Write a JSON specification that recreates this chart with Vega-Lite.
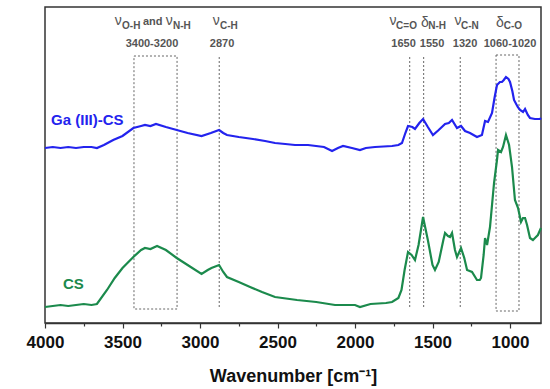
{
  "$schema": "https://vega.github.io/schema/vega-lite/v6.json",
  "autosize": {"type": "none"},
  "padding": {"left": 45, "top": 7, "right": 9, "bottom": 66},
  "width": 496,
  "height": 316,
  "background": "white",
  "config": {
    "view": {"stroke": "#333333", "strokeWidth": 1.5},
    "font": "Liberation Sans",
    "axis": {"grid": false, "domainColor": "#333333", "domainWidth": 1.5, "tickColor": "#333333", "tickWidth": 1.2}
  },
  "datasets": {
    "spectra": [
      {"wn": 4000, "absorbance": 1.75, "sample": "Ga (III)-CS"},
      {"wn": 3950, "absorbance": 1.76, "sample": "Ga (III)-CS"},
      {"wn": 3900, "absorbance": 1.75, "sample": "Ga (III)-CS"},
      {"wn": 3850, "absorbance": 1.76, "sample": "Ga (III)-CS"},
      {"wn": 3800, "absorbance": 1.75, "sample": "Ga (III)-CS"},
      {"wn": 3750, "absorbance": 1.76, "sample": "Ga (III)-CS"},
      {"wn": 3700, "absorbance": 1.76, "sample": "Ga (III)-CS"},
      {"wn": 3665, "absorbance": 1.75, "sample": "Ga (III)-CS"},
      {"wn": 3620, "absorbance": 1.78, "sample": "Ga (III)-CS"},
      {"wn": 3560, "absorbance": 1.83, "sample": "Ga (III)-CS"},
      {"wn": 3500, "absorbance": 1.87, "sample": "Ga (III)-CS"},
      {"wn": 3430, "absorbance": 1.95, "sample": "Ga (III)-CS"},
      {"wn": 3380, "absorbance": 1.97, "sample": "Ga (III)-CS"},
      {"wn": 3355, "absorbance": 1.98, "sample": "Ga (III)-CS"},
      {"wn": 3320, "absorbance": 1.97, "sample": "Ga (III)-CS"},
      {"wn": 3284, "absorbance": 1.99, "sample": "Ga (III)-CS"},
      {"wn": 3220, "absorbance": 1.96, "sample": "Ga (III)-CS"},
      {"wn": 3150, "absorbance": 1.93, "sample": "Ga (III)-CS"},
      {"wn": 3080, "absorbance": 1.90, "sample": "Ga (III)-CS"},
      {"wn": 2990, "absorbance": 1.87, "sample": "Ga (III)-CS"},
      {"wn": 2930, "absorbance": 1.90, "sample": "Ga (III)-CS"},
      {"wn": 2877, "absorbance": 1.93, "sample": "Ga (III)-CS"},
      {"wn": 2850, "absorbance": 1.90, "sample": "Ga (III)-CS"},
      {"wn": 2826, "absorbance": 1.88, "sample": "Ga (III)-CS"},
      {"wn": 2750, "absorbance": 1.86, "sample": "Ga (III)-CS"},
      {"wn": 2658, "absorbance": 1.84, "sample": "Ga (III)-CS"},
      {"wn": 2580, "absorbance": 1.82, "sample": "Ga (III)-CS"},
      {"wn": 2516, "absorbance": 1.80, "sample": "Ga (III)-CS"},
      {"wn": 2450, "absorbance": 1.79, "sample": "Ga (III)-CS"},
      {"wn": 2387, "absorbance": 1.78, "sample": "Ga (III)-CS"},
      {"wn": 2303, "absorbance": 1.78, "sample": "Ga (III)-CS"},
      {"wn": 2200, "absorbance": 1.76, "sample": "Ga (III)-CS"},
      {"wn": 2148, "absorbance": 1.72, "sample": "Ga (III)-CS"},
      {"wn": 2110, "absorbance": 1.75, "sample": "Ga (III)-CS"},
      {"wn": 2077, "absorbance": 1.77, "sample": "Ga (III)-CS"},
      {"wn": 2020, "absorbance": 1.75, "sample": "Ga (III)-CS"},
      {"wn": 1968, "absorbance": 1.73, "sample": "Ga (III)-CS"},
      {"wn": 1930, "absorbance": 1.75, "sample": "Ga (III)-CS"},
      {"wn": 1871, "absorbance": 1.76, "sample": "Ga (III)-CS"},
      {"wn": 1761, "absorbance": 1.77, "sample": "Ga (III)-CS"},
      {"wn": 1720, "absorbance": 1.78, "sample": "Ga (III)-CS"},
      {"wn": 1697, "absorbance": 1.80, "sample": "Ga (III)-CS"},
      {"wn": 1675, "absorbance": 1.90, "sample": "Ga (III)-CS"},
      {"wn": 1658, "absorbance": 1.97, "sample": "Ga (III)-CS"},
      {"wn": 1630, "absorbance": 1.96, "sample": "Ga (III)-CS"},
      {"wn": 1613, "absorbance": 1.94, "sample": "Ga (III)-CS"},
      {"wn": 1585, "absorbance": 2.00, "sample": "Ga (III)-CS"},
      {"wn": 1561, "absorbance": 2.04, "sample": "Ga (III)-CS"},
      {"wn": 1530, "absorbance": 1.96, "sample": "Ga (III)-CS"},
      {"wn": 1497, "absorbance": 1.88, "sample": "Ga (III)-CS"},
      {"wn": 1460, "absorbance": 1.93, "sample": "Ga (III)-CS"},
      {"wn": 1419, "absorbance": 1.99, "sample": "Ga (III)-CS"},
      {"wn": 1395, "absorbance": 2.00, "sample": "Ga (III)-CS"},
      {"wn": 1374, "absorbance": 2.03, "sample": "Ga (III)-CS"},
      {"wn": 1342, "absorbance": 1.95, "sample": "Ga (III)-CS"},
      {"wn": 1316, "absorbance": 1.97, "sample": "Ga (III)-CS"},
      {"wn": 1290, "absorbance": 1.92, "sample": "Ga (III)-CS"},
      {"wn": 1258, "absorbance": 1.90, "sample": "Ga (III)-CS"},
      {"wn": 1213, "absorbance": 1.86, "sample": "Ga (III)-CS"},
      {"wn": 1181, "absorbance": 1.88, "sample": "Ga (III)-CS"},
      {"wn": 1161, "absorbance": 2.02, "sample": "Ga (III)-CS"},
      {"wn": 1142, "absorbance": 2.01, "sample": "Ga (III)-CS"},
      {"wn": 1116, "absorbance": 2.10, "sample": "Ga (III)-CS"},
      {"wn": 1100, "absorbance": 2.25, "sample": "Ga (III)-CS"},
      {"wn": 1084, "absorbance": 2.38, "sample": "Ga (III)-CS"},
      {"wn": 1065, "absorbance": 2.41, "sample": "Ga (III)-CS"},
      {"wn": 1052, "absorbance": 2.41, "sample": "Ga (III)-CS"},
      {"wn": 1040, "absorbance": 2.43, "sample": "Ga (III)-CS"},
      {"wn": 1026, "absorbance": 2.46, "sample": "Ga (III)-CS"},
      {"wn": 1010, "absorbance": 2.44, "sample": "Ga (III)-CS"},
      {"wn": 1000, "absorbance": 2.41, "sample": "Ga (III)-CS"},
      {"wn": 985, "absorbance": 2.32, "sample": "Ga (III)-CS"},
      {"wn": 974, "absorbance": 2.23, "sample": "Ga (III)-CS"},
      {"wn": 950, "absorbance": 2.16, "sample": "Ga (III)-CS"},
      {"wn": 935, "absorbance": 2.13, "sample": "Ga (III)-CS"},
      {"wn": 916, "absorbance": 2.11, "sample": "Ga (III)-CS"},
      {"wn": 903, "absorbance": 2.14, "sample": "Ga (III)-CS"},
      {"wn": 885, "absorbance": 2.08, "sample": "Ga (III)-CS"},
      {"wn": 871, "absorbance": 2.05, "sample": "Ga (III)-CS"},
      {"wn": 840, "absorbance": 2.04, "sample": "Ga (III)-CS"},
      {"wn": 806, "absorbance": 2.04, "sample": "Ga (III)-CS"},
      {"wn": 800, "absorbance": 2.05, "sample": "Ga (III)-CS"},
      {"wn": 4000, "absorbance": 0.16, "sample": "CS"},
      {"wn": 3950, "absorbance": 0.17, "sample": "CS"},
      {"wn": 3900, "absorbance": 0.18, "sample": "CS"},
      {"wn": 3850, "absorbance": 0.17, "sample": "CS"},
      {"wn": 3800, "absorbance": 0.18, "sample": "CS"},
      {"wn": 3750, "absorbance": 0.19, "sample": "CS"},
      {"wn": 3700, "absorbance": 0.18, "sample": "CS"},
      {"wn": 3665, "absorbance": 0.19, "sample": "CS"},
      {"wn": 3600, "absorbance": 0.33, "sample": "CS"},
      {"wn": 3550, "absorbance": 0.45, "sample": "CS"},
      {"wn": 3500, "absorbance": 0.55, "sample": "CS"},
      {"wn": 3430, "absorbance": 0.66, "sample": "CS"},
      {"wn": 3380, "absorbance": 0.73, "sample": "CS"},
      {"wn": 3355, "absorbance": 0.75, "sample": "CS"},
      {"wn": 3320, "absorbance": 0.74, "sample": "CS"},
      {"wn": 3277, "absorbance": 0.77, "sample": "CS"},
      {"wn": 3220, "absorbance": 0.73, "sample": "CS"},
      {"wn": 3150, "absorbance": 0.65, "sample": "CS"},
      {"wn": 3080, "absorbance": 0.58, "sample": "CS"},
      {"wn": 2990, "absorbance": 0.49, "sample": "CS"},
      {"wn": 2950, "absorbance": 0.53, "sample": "CS"},
      {"wn": 2926, "absorbance": 0.55, "sample": "CS"},
      {"wn": 2877, "absorbance": 0.58, "sample": "CS"},
      {"wn": 2850, "absorbance": 0.51, "sample": "CS"},
      {"wn": 2826, "absorbance": 0.46, "sample": "CS"},
      {"wn": 2750, "absorbance": 0.41, "sample": "CS"},
      {"wn": 2677, "absorbance": 0.36, "sample": "CS"},
      {"wn": 2600, "absorbance": 0.31, "sample": "CS"},
      {"wn": 2516, "absorbance": 0.26, "sample": "CS"},
      {"wn": 2374, "absorbance": 0.23, "sample": "CS"},
      {"wn": 2250, "absorbance": 0.21, "sample": "CS"},
      {"wn": 2129, "absorbance": 0.18, "sample": "CS"},
      {"wn": 2050, "absorbance": 0.18, "sample": "CS"},
      {"wn": 2000, "absorbance": 0.18, "sample": "CS"},
      {"wn": 1968, "absorbance": 0.16, "sample": "CS"},
      {"wn": 1900, "absorbance": 0.19, "sample": "CS"},
      {"wn": 1800, "absorbance": 0.20, "sample": "CS"},
      {"wn": 1761, "absorbance": 0.21, "sample": "CS"},
      {"wn": 1720, "absorbance": 0.25, "sample": "CS"},
      {"wn": 1700, "absorbance": 0.33, "sample": "CS"},
      {"wn": 1680, "absorbance": 0.53, "sample": "CS"},
      {"wn": 1658, "absorbance": 0.71, "sample": "CS"},
      {"wn": 1635, "absorbance": 0.68, "sample": "CS"},
      {"wn": 1613, "absorbance": 0.63, "sample": "CS"},
      {"wn": 1590, "absorbance": 0.78, "sample": "CS"},
      {"wn": 1561, "absorbance": 1.06, "sample": "CS"},
      {"wn": 1530, "absorbance": 0.83, "sample": "CS"},
      {"wn": 1500, "absorbance": 0.58, "sample": "CS"},
      {"wn": 1484, "absorbance": 0.53, "sample": "CS"},
      {"wn": 1460, "absorbance": 0.61, "sample": "CS"},
      {"wn": 1430, "absorbance": 0.83, "sample": "CS"},
      {"wn": 1419, "absorbance": 0.90, "sample": "CS"},
      {"wn": 1400, "absorbance": 0.87, "sample": "CS"},
      {"wn": 1387, "absorbance": 0.86, "sample": "CS"},
      {"wn": 1374, "absorbance": 0.90, "sample": "CS"},
      {"wn": 1355, "absorbance": 0.73, "sample": "CS"},
      {"wn": 1342, "absorbance": 0.66, "sample": "CS"},
      {"wn": 1316, "absorbance": 0.75, "sample": "CS"},
      {"wn": 1295, "absorbance": 0.65, "sample": "CS"},
      {"wn": 1277, "absorbance": 0.53, "sample": "CS"},
      {"wn": 1245, "absorbance": 0.51, "sample": "CS"},
      {"wn": 1213, "absorbance": 0.43, "sample": "CS"},
      {"wn": 1195, "absorbance": 0.43, "sample": "CS"},
      {"wn": 1187, "absorbance": 0.45, "sample": "CS"},
      {"wn": 1170, "absorbance": 0.68, "sample": "CS"},
      {"wn": 1161, "absorbance": 0.85, "sample": "CS"},
      {"wn": 1148, "absorbance": 0.78, "sample": "CS"},
      {"wn": 1129, "absorbance": 0.96, "sample": "CS"},
      {"wn": 1103, "absorbance": 1.40, "sample": "CS"},
      {"wn": 1084, "absorbance": 1.63, "sample": "CS"},
      {"wn": 1077, "absorbance": 1.73, "sample": "CS"},
      {"wn": 1058, "absorbance": 1.71, "sample": "CS"},
      {"wn": 1045, "absorbance": 1.76, "sample": "CS"},
      {"wn": 1026, "absorbance": 1.88, "sample": "CS"},
      {"wn": 1006, "absorbance": 1.78, "sample": "CS"},
      {"wn": 987, "absorbance": 1.56, "sample": "CS"},
      {"wn": 968, "absorbance": 1.23, "sample": "CS"},
      {"wn": 948, "absorbance": 1.15, "sample": "CS"},
      {"wn": 929, "absorbance": 1.01, "sample": "CS"},
      {"wn": 916, "absorbance": 1.05, "sample": "CS"},
      {"wn": 903, "absorbance": 1.05, "sample": "CS"},
      {"wn": 890, "absorbance": 0.98, "sample": "CS"},
      {"wn": 871, "absorbance": 0.85, "sample": "CS"},
      {"wn": 852, "absorbance": 0.83, "sample": "CS"},
      {"wn": 839, "absorbance": 0.85, "sample": "CS"},
      {"wn": 820, "absorbance": 0.88, "sample": "CS"},
      {"wn": 806, "absorbance": 0.93, "sample": "CS"},
      {"wn": 800, "absorbance": 0.95, "sample": "CS"}
    ],
    "bands": [
      {"wn": 2876, "y1": 0.16, "y2": 2.67},
      {"wn": 1647, "y1": 0.16, "y2": 2.68},
      {"wn": 1557, "y1": 0.16, "y2": 2.68},
      {"wn": 1321, "y1": 0.16, "y2": 2.68}
    ],
    "boxes": [
      {"wn1": 3426, "wn2": 3148, "y1": 0.14, "y2": 2.67},
      {"wn1": 1090, "wn2": 942, "y1": 0.12, "y2": 2.68}
    ],
    "labels": [
      {"wn": 3550, "y": 2.98, "text": "ν", "kind": "greek"},
      {"wn": 3221, "y": 2.98, "text": "ν", "kind": "greek"},
      {"wn": 2918, "y": 2.98, "text": "ν", "kind": "greek"},
      {"wn": 1778, "y": 2.98, "text": "ν", "kind": "greek"},
      {"wn": 1575, "y": 2.96, "text": "δ", "kind": "greek"},
      {"wn": 1358, "y": 2.98, "text": "ν", "kind": "greek"},
      {"wn": 1090, "y": 2.96, "text": "δ", "kind": "greek"},
      {"wn": 3503, "y": 2.94, "text": "O-H", "kind": "sub"},
      {"wn": 3174, "y": 2.94, "text": "N-H", "kind": "sub"},
      {"wn": 2871, "y": 2.94, "text": "C-H", "kind": "sub"},
      {"wn": 1735, "y": 2.945, "text": "C=O", "kind": "sub"},
      {"wn": 1528, "y": 2.945, "text": "N-H", "kind": "sub"},
      {"wn": 1316, "y": 2.945, "text": "C-N", "kind": "sub"},
      {"wn": 1040, "y": 2.945, "text": "C-O", "kind": "sub"},
      {"wn": 3368, "y": 2.98, "text": "and", "kind": "and"},
      {"wn": 3310, "y": 2.76, "text": "3400-3200", "kind": "num"},
      {"wn": 2858, "y": 2.76, "text": "2870", "kind": "num"},
      {"wn": 1687, "y": 2.76, "text": "1650", "kind": "num"},
      {"wn": 1503, "y": 2.76, "text": "1550", "kind": "num"},
      {"wn": 1290, "y": 2.76, "text": "1320", "kind": "num"},
      {"wn": 1000, "y": 2.76, "text": "1060-1020", "kind": "num"}
    ],
    "names": [
      {"wn": 3961, "y": 1.98, "sample": "Ga (III)-CS"},
      {"wn": 3884, "y": 0.34, "sample": "CS"}
    ]
  },
  "resolve": {"scale": {"x": "shared", "y": "shared"}, "axis": {"x": "independent"}},
  "layer": [
    {
      "data": {"name": "boxes"},
      "mark": {"type": "rect", "fill": null, "fillOpacity": 0, "stroke": "#666666", "strokeWidth": 1, "strokeDash": [2, 2]},
      "encoding": {
        "x": {"field": "wn1", "type": "quantitative", "scale": {"domain": [800, 4000], "reverse": true, "nice": false, "zero": false}, "axis": null},
        "x2": {"field": "wn2"},
        "y": {"field": "y1", "type": "quantitative", "scale": {"domain": [0, 3.16], "nice": false, "zero": false}, "axis": null},
        "y2": {"field": "y2"}
      }
    },
    {
      "data": {"name": "bands"},
      "mark": {"type": "rule", "stroke": "#666666", "strokeWidth": 1, "strokeDash": [2, 2]},
      "encoding": {
        "x": {"field": "wn", "type": "quantitative", "axis": {"orient": "bottom", "values": [3750, 3250, 2750, 2250, 1750, 1250, 750], "labels": false, "domain": false, "title": null, "tickSize": 3, "grid": false}},
        "y": {"field": "y1", "type": "quantitative"},
        "y2": {"field": "y2"}
      }
    },
    {
      "data": {"name": "spectra"},
      "mark": {"type": "line", "strokeWidth": 2.2},
      "encoding": {
        "x": {"field": "wn", "type": "quantitative", "axis": {"orient": "bottom", "values": [4000, 3500, 3000, 2500, 2000, 1500, 1000], "format": "d", "title": "Wavenumber [cm⁻¹]", "titleFontSize": 18, "titleFontWeight": "bold", "titleColor": "#111111", "titleY": 58, "titleBaseline": "alphabetic", "labelFontSize": 17, "labelFontWeight": "bold", "labelColor": "#111111", "labelBaseline": "alphabetic", "labelPadding": 19, "tickSize": 5, "labelFlush": false, "labelOverlap": false}},
        "y": {"field": "absorbance", "type": "quantitative", "axis": {"title": "Absorbance [a.u.]", "titleFontSize": 18, "titleFontWeight": "bold", "titleColor": "#111111", "titleX": -19, "titleY": 171, "titleAngle": -90, "titleAlign": "center", "titleBaseline": "alphabetic", "labels": false, "ticks": false}},
        "color": {"field": "sample", "type": "nominal", "scale": {"domain": ["Ga (III)-CS", "CS"], "range": ["#2323ee", "#1b8a4c"]}, "legend": null},
        "order": {"field": "wn", "type": "quantitative", "sort": "descending"}
      }
    },
    {
      "data": {"name": "names"},
      "mark": {"type": "text", "align": "left", "baseline": "alphabetic", "fontWeight": "bold", "fontSize": 15},
      "encoding": {
        "x": {"field": "wn", "type": "quantitative", "axis": null},
        "y": {"field": "y", "type": "quantitative"},
        "text": {"field": "sample"},
        "color": {"field": "sample", "type": "nominal", "legend": null}
      }
    },
    {
      "data": {"name": "labels"},
      "transform": [{"filter": "datum.kind === 'greek'"}],
      "mark": {"type": "text", "align": "left", "baseline": "alphabetic", "fontSize": 14, "color": "#555555"},
      "encoding": {
        "x": {"field": "wn", "type": "quantitative", "axis": null},
        "y": {"field": "y", "type": "quantitative"},
        "text": {"field": "text"}
      }
    },
    {
      "data": {"name": "labels"},
      "transform": [{"filter": "datum.kind === 'sub'"}],
      "mark": {"type": "text", "align": "left", "baseline": "alphabetic", "fontSize": 10, "fontWeight": "bold", "color": "#555555"},
      "encoding": {
        "x": {"field": "wn", "type": "quantitative", "axis": null},
        "y": {"field": "y", "type": "quantitative"},
        "text": {"field": "text"}
      }
    },
    {
      "data": {"name": "labels"},
      "transform": [{"filter": "datum.kind === 'and'"}],
      "mark": {"type": "text", "align": "left", "baseline": "alphabetic", "fontSize": 11, "fontWeight": "bold", "color": "#555555"},
      "encoding": {
        "x": {"field": "wn", "type": "quantitative", "axis": null},
        "y": {"field": "y", "type": "quantitative"},
        "text": {"field": "text"}
      }
    },
    {
      "data": {"name": "labels"},
      "transform": [{"filter": "datum.kind === 'num'"}],
      "mark": {"type": "text", "align": "center", "baseline": "alphabetic", "fontSize": 11, "fontWeight": "bold", "color": "#555555"},
      "encoding": {
        "x": {"field": "wn", "type": "quantitative", "axis": null},
        "y": {"field": "y", "type": "quantitative"},
        "text": {"field": "text"}
      }
    }
  ]
}
